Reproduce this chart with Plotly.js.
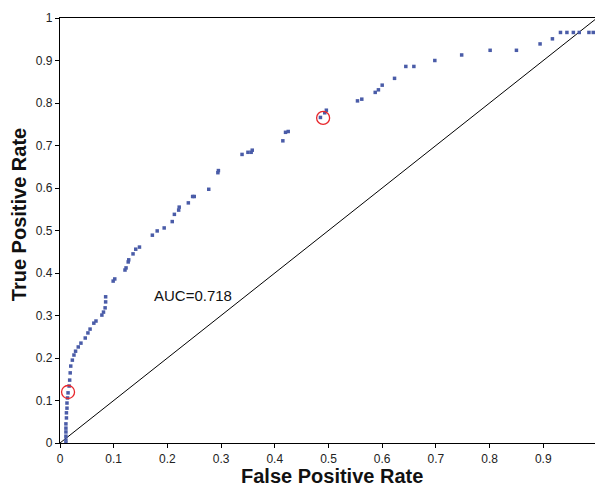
<!DOCTYPE html>
<html>
<head>
<meta charset="utf-8">
<script src="https://cdn.plot.ly/plotly-3.0.1.min.js"></script>
<style>html,body{margin:0;padding:0;background:#fff;}#chart{width:595px;height:486px;}</style>
</head>
<body>
<div id="chart"></div>
<script>
// ROC curve points (false positive rate, true positive rate)
const fpr = [0.011,0.011,0.011,0.011,0.011,0.011,0.012,0.012,0.013,0.013,0.014,0.015,0.017,0.018,0.019,0.020,0.023,0.026,0.029,0.034,0.039,0.047,0.052,0.056,0.063,0.067,0.078,0.081,0.084,0.085,0.085,0.099,0.102,0.121,0.123,0.127,0.128,0.136,0.141,0.148,0.172,0.181,0.194,0.209,0.213,0.221,0.222,0.239,0.247,0.250,0.277,0.294,0.295,0.339,0.350,0.356,0.358,0.415,0.420,0.425,0.485,0.493,0.496,0.554,0.562,0.587,0.593,0.600,0.623,0.644,0.659,0.698,0.748,0.801,0.850,0.894,0.917,0.932,0.944,0.956,0.967,0.985,0.993];
const tpr = [0.000,0.007,0.016,0.026,0.035,0.045,0.059,0.071,0.082,0.094,0.106,0.118,0.134,0.148,0.165,0.181,0.195,0.207,0.216,0.226,0.235,0.247,0.259,0.268,0.282,0.287,0.301,0.308,0.318,0.332,0.344,0.381,0.386,0.407,0.412,0.426,0.431,0.445,0.456,0.461,0.489,0.499,0.506,0.521,0.538,0.548,0.555,0.565,0.580,0.580,0.597,0.636,0.641,0.679,0.684,0.684,0.689,0.711,0.731,0.733,0.766,0.777,0.783,0.805,0.809,0.825,0.831,0.842,0.858,0.886,0.886,0.900,0.913,0.924,0.924,0.939,0.951,0.966,0.966,0.966,0.966,0.966,0.966];
// highlighted operating points
const markX = [0.015, 0.49];
const markY = [0.12, 0.765];
// chance line
const diagX = [0, 1];
const diagY = [0, 1];
const xTicks = [0,0.1,0.2,0.3,0.4,0.5,0.6,0.7,0.8,0.9];
const xTickText = ["0","0.1","0.2","0.3","0.4","0.5","0.6","0.7","0.8","0.9"];
const yTicks = [0,0.1,0.2,0.3,0.4,0.5,0.6,0.7,0.8,0.9,1];
const yTickText = ["0","0.1","0.2","0.3","0.4","0.5","0.6","0.7","0.8","0.9","1"];
const aucLabel = "AUC=0.718";
const xTitle = "False Positive Rate";
const yTitle = "True Positive Rate";

const FONT = "Liberation Sans, Arial, sans-serif";

const traces = [
  {x: diagX, y: diagY, mode: "lines", line: {color: "#000", width: 1}, hoverinfo: "skip", showlegend: false},
  {x: fpr, y: tpr, mode: "markers", marker: {symbol: "square", size: 3.5, color: "#4a5ca8", line: {width: 0}}, showlegend: false},
  {x: markX, y: markY, mode: "markers", marker: {symbol: "circle-open", size: 13, color: "#e8262b", line: {width: 1.3, color: "#e8262b"}}, showlegend: false}
];

const layout = {
  width: 595, height: 486,
  margin: {l: 60, r: 0, t: 18, b: 43, pad: 0},
  paper_bgcolor: "#fff", plot_bgcolor: "#fff",
  font: {family: FONT, size: 12, color: "#222"},
  xaxis: {
    range: [0, 0.9963], tickvals: xTicks, ticktext: xTickText,
    showgrid: false, zeroline: false, showline: true, linecolor: "#000", linewidth: 1.2,
    mirror: true, ticks: "outside", ticklen: 4, tickcolor: "#000", tickwidth: 1,
    tickfont: {family: FONT, size: 12, color: "#222"},
    automargin: false
  },
  yaxis: {
    range: [0, 1], tickvals: yTicks, ticktext: yTickText,
    showgrid: false, zeroline: false, showline: true, linecolor: "#000", linewidth: 1.2,
    ticks: "outside", ticklen: 4, tickcolor: "#000", tickwidth: 1,
    tickfont: {family: FONT, size: 12, color: "#222"},
    automargin: false
  },
  annotations: [
    {x: 0.171, y: 0.348, xref: "x", yref: "y", text: aucLabel, showarrow: false, xanchor: "left", yanchor: "middle",
     font: {family: FONT, size: 15, color: "#111"}},
    {x: 0.508, y: -0.078, xref: "paper", yref: "paper", text: "<b>" + xTitle + "</b>", showarrow: false,
     xanchor: "center", yanchor: "middle", font: {family: FONT, size: 20, color: "#111"}},
    {x: -0.0766, y: 0.536, xref: "paper", yref: "paper", text: "<b>" + yTitle + "</b>", showarrow: false, textangle: -90,
     xanchor: "center", yanchor: "middle", font: {family: FONT, size: 20, color: "#111"}}
  ]
};

Plotly.newPlot("chart", traces, layout, {displayModeBar: false, staticPlot: true});
</script>
</body>
</html>
